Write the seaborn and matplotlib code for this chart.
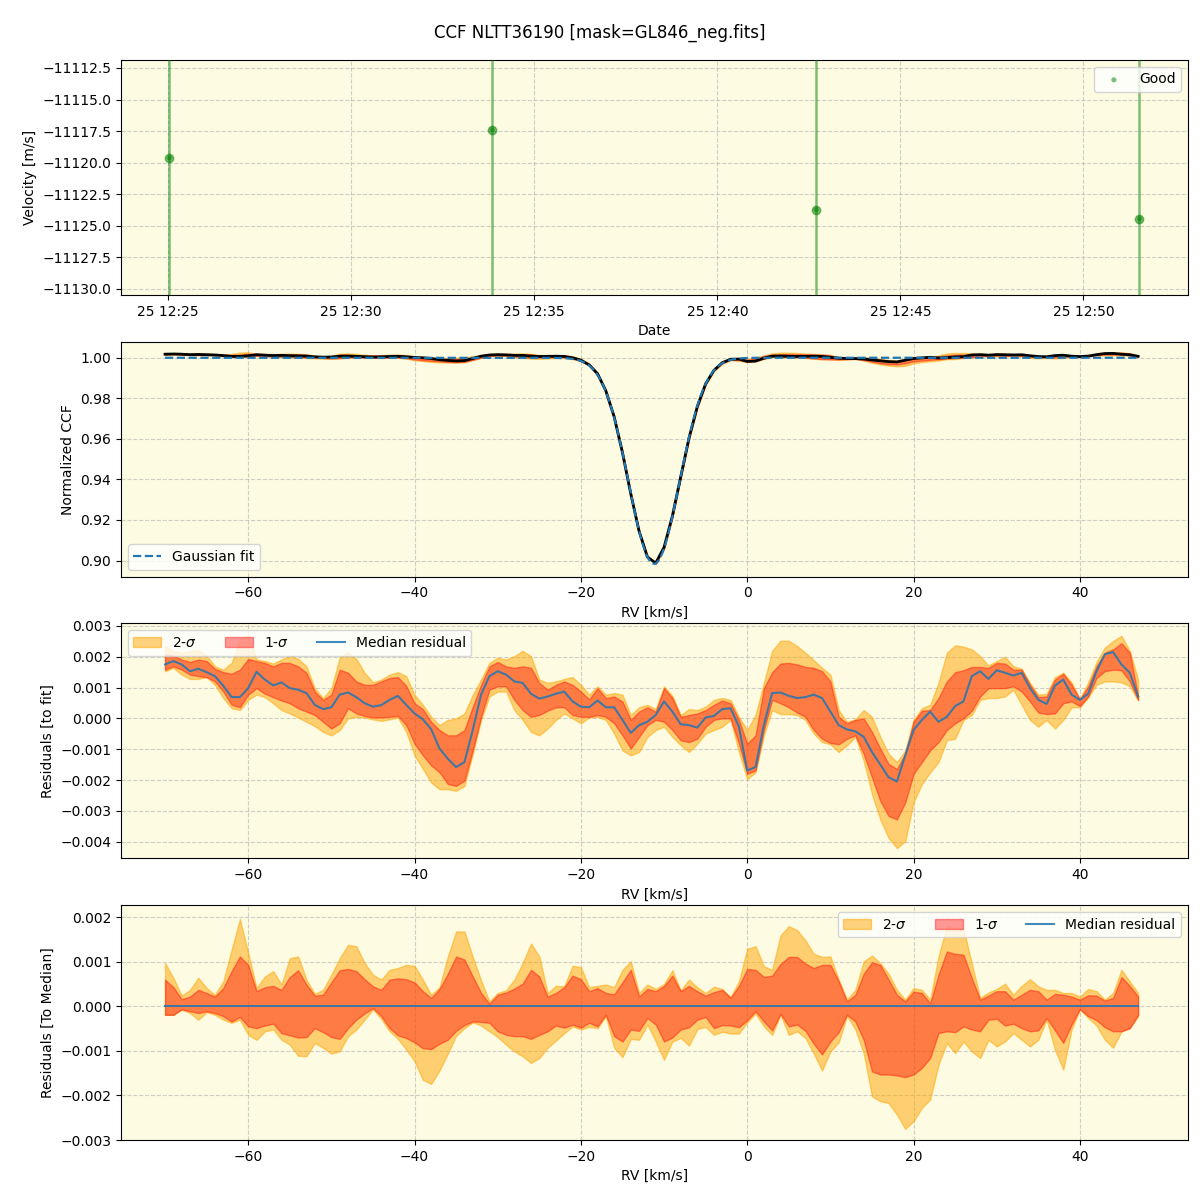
import numpy as np
import pandas as pd
import matplotlib
matplotlib.use("Agg")
import matplotlib.pyplot as plt
import matplotlib.dates as mdates
from matplotlib.ticker import ScalarFormatter
import seaborn as sns

# ---------------- data ----------------
title = "CCF NLTT36190 [mask=GL846_neg.fits]"

# Panel 1: radial velocities
obs_times = ["2024-01-25 12:25:02", "2024-01-25 12:33:51",
             "2024-01-25 12:42:42", "2024-01-25 12:51:32"]
velocities = [-11119.63, -11117.41, -11123.74, -11124.46]
vel_errors = [20.0, 20.0, 20.0, 20.0]

# Panel 2: Gaussian fit parameters
fit_center = -11.2
fit_sigma = 3.05
fit_depth = 0.1016
fit_continuum = 1.0

# RV grid (km/s)
rv = np.arange(-70, 48)

# Panel 3: residuals to fit (units of 1e-3)
med_res = [1.75, 1.86, 1.75, 1.53, 1.61, 1.50, 1.37, 1.06, 0.69, 0.69,
           0.98, 1.51, 1.26, 1.07, 1.17, 0.98, 0.93, 0.82, 0.44, 0.30,
           0.36, 0.77, 0.84, 0.69, 0.49, 0.38, 0.43, 0.60, 0.73, 0.44,
           0.16, -0.03, -0.35, -0.98, -1.31, -1.58, -1.42, -0.38, 0.77, 1.37,
           1.53, 1.42, 1.20, 1.15, 0.80, 0.64, 0.71, 0.80, 0.87, 0.55,
           0.38, 0.36, 0.58, 0.36, 0.36, -0.05, -0.47, -0.22, -0.11, 0.11,
           0.55, 0.22, -0.19, -0.22, -0.30, 0.03, 0.08, 0.30, 0.33, -0.27,
           -1.69, -1.58, -0.22, 0.82, 0.84, 0.73, 0.66, 0.69, 0.77, 0.66,
           0.22, -0.22, -0.36, -0.42, -0.60, -1.09, -1.50, -1.91, -2.05, -1.20,
           -0.38, -0.05, 0.22, -0.11, 0.05, 0.40, 0.55, 1.37, 1.53, 1.28,
           1.56, 1.48, 1.39, 1.48, 0.98, 0.60, 0.47, 1.06, 1.26, 0.77,
           0.60, 0.80, 1.53, 2.08, 2.15, 1.75, 1.48, 0.71]
s1_lo = [1.58, 1.69, 1.58, 1.42, 1.37, 1.34, 1.20, 0.87, 0.44, 0.36,
         0.77, 0.98, 0.80, 0.69, 0.58, 0.49, 0.33, 0.22, 0.11, -0.11,
         -0.33, -0.16, 0.33, 0.16, 0.08, 0.03, 0.03, 0.05, 0.08, -0.22,
         -0.82, -1.20, -1.53, -1.75, -2.13, -2.19, -2.02, -1.04, 0.05, 0.93,
         1.04, 1.04, 0.60, 0.27, 0.05, 0.11, 0.25, 0.36, 0.36, 0.11,
         0.05, 0.05, 0.11, 0.05, -0.16, -0.55, -0.98, -0.60, -0.22, -0.05,
         -0.11, -0.38, -0.71, -0.77, -0.66, -0.27, -0.05, 0.00, 0.00, -0.82,
         -1.80, -1.69, -0.38, 0.60, 0.49, 0.36, 0.19, 0.05, -0.38, -0.66,
         -0.80, -0.84, -0.66, -0.55, -1.15, -1.91, -2.68, -3.17, -3.28, -2.73,
         -1.80, -1.42, -1.04, -0.77, -0.38, -0.16, 0.00, 0.25, 0.71, 0.98,
         0.98, 0.98, 1.04, 0.87, 0.55, 0.19, 0.14, 0.16, 0.49, 0.55,
         0.40, 0.71, 1.31, 1.53, 1.58, 1.56, 1.20, 0.60]
s1_hi = [2.08, 2.04, 1.91, 1.83, 1.91, 1.86, 1.61, 1.50, 1.45, 1.58,
         1.93, 1.86, 1.80, 1.69, 1.80, 1.80, 1.69, 1.48, 0.87, 0.60,
         0.77, 1.58, 1.48, 1.20, 1.09, 1.09, 1.20, 1.31, 1.34, 1.06,
         0.49, 0.30, -0.11, -0.38, -0.55, -0.55, -0.38, 0.38, 1.09, 1.69,
         1.83, 1.69, 1.64, 1.69, 1.64, 1.15, 0.93, 1.09, 1.20, 1.09,
         0.87, 0.62, 0.98, 0.66, 0.71, 0.55, -0.05, 0.22, 0.36, 0.22,
         0.98, 0.66, 0.05, 0.11, 0.16, 0.27, 0.44, 0.58, 0.49, -0.05,
         -0.82, -0.55, 0.98, 1.50, 1.78, 1.80, 1.75, 1.67, 1.64, 1.53,
         1.20, 0.05, -0.16, -0.05, 0.00, -0.44, -0.98, -1.48, -1.64, -1.15,
         -0.11, 0.25, 0.27, 0.66, 1.20, 1.50, 1.56, 1.67, 1.67, 1.64,
         1.80, 1.78, 1.58, 1.58, 1.09, 0.69, 0.71, 1.26, 1.45, 1.09,
         0.62, 1.04, 1.69, 2.13, 2.24, 2.44, 2.13, 0.73]
s2_lo = [1.53, 1.64, 1.42, 1.28, 1.28, 1.34, 1.09, 0.66, 0.33, 0.27,
         0.60, 0.77, 0.69, 0.49, 0.27, 0.16, 0.03, -0.11, -0.25, -0.44,
         -0.55, -0.38, 0.00, 0.05, 0.03, -0.03, -0.08, -0.03, 0.03, -0.44,
         -1.20, -1.64, -2.08, -2.30, -2.30, -2.35, -2.19, -1.15, -0.05, 0.71,
         0.87, 0.87, 0.27, -0.05, -0.44, -0.55, -0.33, -0.05, 0.16, 0.00,
         -0.16, 0.03, 0.05, -0.05, -0.49, -1.04, -1.20, -1.09, -0.60, -0.38,
         -0.27, -0.60, -0.87, -1.09, -0.82, -0.49, -0.38, -0.27, -0.05, -1.09,
         -1.97, -1.75, -0.55, 0.27, 0.14, 0.14, 0.11, -0.05, -0.49, -0.77,
         -0.84, -1.09, -0.87, -0.60, -1.37, -2.46, -3.28, -3.88, -4.21, -3.99,
         -2.73, -2.13, -1.75, -1.42, -0.71, -0.66, -0.05, 0.11, 0.60, 0.66,
         0.66, 0.71, 0.93, 0.44, -0.05, -0.27, -0.05, -0.33, -0.05, 0.36,
         0.36, 0.69, 1.09, 1.20, 1.20, 1.17, 1.04, 0.58]
s2_hi = [2.35, 2.19, 2.13, 2.19, 2.22, 2.04, 1.69, 1.58, 1.80, 2.57,
         2.70, 1.91, 1.86, 1.78, 1.91, 2.04, 1.93, 1.69, 0.98, 0.66,
         0.98, 1.97, 2.15, 1.93, 1.48, 1.17, 1.26, 1.42, 1.50, 1.37,
         0.77, 0.44, 0.05, -0.22, -0.05, 0.00, 0.16, 0.77, 1.26, 1.80,
         1.97, 1.91, 2.02, 2.19, 2.02, 1.26, 1.15, 1.20, 1.28, 1.34,
         1.09, 0.77, 1.04, 0.77, 0.82, 0.77, 0.11, 0.36, 0.44, 0.30,
         1.04, 0.73, 0.11, 0.30, 0.27, 0.38, 0.60, 0.66, 0.60, 0.05,
         -0.38, 0.11, 1.15, 2.19, 2.52, 2.52, 2.35, 2.13, 1.89, 1.64,
         1.42, 0.27, -0.11, -0.03, 0.27, 0.05, -0.60, -1.15, -1.42, -1.04,
         -0.05, 0.33, 0.44, 1.15, 2.13, 2.37, 2.33, 2.24, 2.02, 1.72,
         1.86, 2.00, 1.69, 1.61, 1.15, 0.77, 0.80, 1.34, 1.48, 1.17,
         0.62, 1.17, 1.83, 2.30, 2.51, 2.68, 2.19, 1.26]

# Panel 4: residuals to median (units of 1e-3)
m_s2_hi = [0.97, 0.64, 0.24, 0.37, 0.64, 0.41, 0.26, 0.56, 1.27, 1.96,
           1.20, 0.41, 0.67, 0.79, 0.49, 1.08, 1.12, 0.60, 0.28, 0.37,
           0.71, 1.08, 1.38, 1.35, 0.97, 0.71, 0.60, 0.82, 0.86, 0.93,
           0.91, 0.60, 0.26, 0.43, 1.12, 1.68, 1.68, 1.11, 0.58, 0.11,
           0.30, 0.36, 0.60, 0.97, 1.41, 1.12, 0.30, 0.46, 0.45, 0.91,
           0.88, 0.43, 0.46, 0.49, 0.43, 0.82, 1.01, 0.30, 0.49, 0.39,
           0.50, 0.81, 0.36, 0.60, 0.43, 0.30, 0.44, 0.39, 0.21, 0.56,
           1.29, 1.35, 0.90, 0.82, 1.59, 1.80, 1.71, 1.48, 1.18, 1.11,
           1.12, 0.60, 0.15, 0.37, 1.01, 1.14, 0.97, 0.73, 0.37, 0.15,
           0.41, 0.37, 0.15, 1.12, 1.80, 1.76, 1.74, 0.97, 0.19, 0.31,
           0.39, 0.51, 0.26, 0.46, 0.61, 0.45, 0.37, 0.37, 0.30, 0.30,
           0.22, 0.39, 0.34, 0.15, 0.30, 0.82, 0.56, 0.30]
m_s1_hi = [0.60, 0.43, 0.16, 0.22, 0.37, 0.30, 0.22, 0.41, 0.79, 1.12,
           0.93, 0.34, 0.43, 0.46, 0.37, 0.66, 0.81, 0.49, 0.24, 0.26,
           0.54, 0.81, 0.84, 0.79, 0.61, 0.45, 0.37, 0.60, 0.63, 0.61,
           0.54, 0.34, 0.19, 0.39, 0.73, 1.12, 1.05, 0.67, 0.30, 0.06,
           0.26, 0.31, 0.40, 0.51, 0.82, 0.67, 0.22, 0.30, 0.43, 0.69,
           0.61, 0.34, 0.41, 0.30, 0.27, 0.54, 0.82, 0.22, 0.39, 0.34,
           0.46, 0.69, 0.34, 0.46, 0.34, 0.24, 0.32, 0.37, 0.19, 0.46,
           0.84, 0.82, 0.66, 0.69, 0.95, 1.11, 1.11, 0.96, 0.86, 0.93,
           0.93, 0.56, 0.11, 0.26, 0.73, 0.99, 0.93, 0.60, 0.26, 0.11,
           0.33, 0.30, 0.07, 0.71, 1.23, 1.18, 1.16, 0.64, 0.15, 0.24,
           0.34, 0.34, 0.15, 0.26, 0.37, 0.34, 0.15, 0.28, 0.26, 0.22,
           0.15, 0.25, 0.24, 0.13, 0.19, 0.66, 0.46, 0.22]
m_s1_lo = [-0.19, -0.19, -0.07, -0.11, -0.15, -0.11, -0.15, -0.22, -0.34, -0.24,
           -0.45, -0.49, -0.43, -0.39, -0.60, -0.65, -0.70, -0.69, -0.49, -0.58,
           -0.69, -0.73, -0.49, -0.30, -0.16, -0.04, -0.22, -0.49, -0.65, -0.71,
           -0.81, -0.94, -0.96, -0.84, -0.75, -0.55, -0.42, -0.34, -0.35, -0.37,
           -0.56, -0.64, -0.67, -0.67, -0.73, -0.64, -0.56, -0.43, -0.48, -0.41,
           -0.48, -0.37, -0.45, -0.19, -0.67, -0.79, -0.52, -0.55, -0.26, -0.41,
           -0.79, -0.70, -0.52, -0.47, -0.30, -0.24, -0.49, -0.42, -0.43, -0.47,
           -0.31, -0.11, -0.34, -0.54, -0.17, -0.45, -0.41, -0.55, -0.84, -1.08,
           -0.79, -0.58, -0.19, -0.34, -0.75, -1.46, -1.53, -1.53, -1.55, -1.59,
           -1.53, -1.38, -1.16, -0.60, -0.56, -0.58, -0.45, -0.52, -0.56, -0.30,
           -0.28, -0.43, -0.39, -0.49, -0.56, -0.54, -0.26, -0.54, -0.82, -0.41,
           -0.06, -0.22, -0.31, -0.47, -0.56, -0.56, -0.49, -0.19]
m_s2_lo = [-0.19, -0.19, -0.07, -0.15, -0.30, -0.13, -0.19, -0.30, -0.37, -0.30,
           -0.64, -0.75, -0.56, -0.52, -0.75, -0.86, -1.11, -1.12, -0.82, -0.93,
           -1.06, -1.01, -0.67, -0.52, -0.30, -0.07, -0.28, -0.56, -0.73, -0.97,
           -1.23, -1.65, -1.74, -1.44, -1.06, -0.66, -0.49, -0.36, -0.43, -0.56,
           -0.69, -0.86, -1.01, -1.12, -1.27, -1.16, -0.93, -0.77, -0.60, -0.45,
           -0.52, -0.46, -0.49, -0.22, -0.93, -1.14, -0.73, -0.75, -0.41, -0.79,
           -1.20, -0.79, -0.71, -0.88, -0.51, -0.46, -0.64, -0.57, -0.61, -0.61,
           -0.36, -0.16, -0.45, -0.64, -0.19, -0.64, -0.56, -0.71, -1.06, -1.44,
           -1.01, -0.81, -0.21, -0.52, -1.05, -2.02, -2.13, -2.17, -2.43, -2.75,
           -2.58, -2.28, -2.09, -1.31, -0.82, -1.05, -0.79, -1.01, -1.16, -0.75,
           -0.90, -0.79, -0.60, -0.75, -0.90, -0.75, -0.30, -0.97, -1.42, -0.52,
           -0.07, -0.26, -0.43, -0.75, -0.93, -0.56, -0.49, -0.22]

# ---------------- derived ----------------
scale = 1e-3
med = np.array(med_res) * scale
lo1, hi1 = np.array(s1_lo) * scale, np.array(s1_hi) * scale
lo2, hi2 = np.array(s2_lo) * scale, np.array(s2_hi) * scale
mlo1, mhi1 = np.array(m_s1_lo) * scale, np.array(m_s1_hi) * scale
mlo2, mhi2 = np.array(m_s2_lo) * scale, np.array(m_s2_hi) * scale


def gauss_fit(x):
    return fit_continuum - fit_depth * np.exp(-0.5 * ((x - fit_center) / fit_sigma) ** 2)


rv_fine = np.linspace(rv.min(), rv.max(), 900)
fit_fine = gauss_fit(rv_fine)
fit_grid = gauss_fit(rv)
ccf = fit_grid + med

times = pd.to_datetime(obs_times)

# ---------------- figure ----------------
bg = "#fdfbe2"
fig, axes = plt.subplots(4, 1, figsize=(12, 12), dpi=100)
fig.subplots_adjust(left=0.1008, right=0.99, bottom=0.05, top=0.95, hspace=0.2)
for ax in axes:
    ax.set_facecolor(bg)
    ax.grid(True, linestyle="--", color="#b0b0b0", alpha=0.6, linewidth=0.8)
    ax.set_axisbelow(True)

# Panel 1
ax = axes[0]
ax.errorbar(times, velocities, yerr=vel_errors, fmt="o", color="green",
            alpha=0.5, ms=6, elinewidth=1.8, zorder=3)
sns.scatterplot(x=times, y=velocities, ax=ax, color="green", alpha=0.5,
                s=14, edgecolor="none", label="Good", zorder=4)
ax.set_ylim(-11130.47, -11111.87)
ax.yaxis.set_major_formatter(ScalarFormatter(useOffset=False))
ax.set_yticks(np.arange(-11130.0, -11111.0, 2.5))
ax.xaxis.set_major_locator(mdates.MinuteLocator(byminute=range(0, 60, 5)))
ax.xaxis.set_major_formatter(mdates.DateFormatter("%d %H:%M"))
ax.set_xlabel("Date")
ax.set_ylabel("Velocity [m/s]")
ax.legend(loc="upper right")

# Panel 2
ax = axes[1]
ax.fill_between(rv, fit_grid + lo2, fit_grid + hi2, color="orange", alpha=0.5)
ax.fill_between(rv, fit_grid + lo1, fit_grid + hi1, color="red", alpha=0.4)
sns.lineplot(x=rv, y=ccf, ax=ax, color="black", linewidth=2)
sns.lineplot(x=rv_fine, y=fit_fine, ax=ax, color="#1f77b4", linewidth=1.6,
             linestyle="--", label="Gaussian fit")
ax.set_xlim(-75.3, 53.0)
ax.set_ylim(0.8921, 1.0079)
ax.set_xlabel("RV [km/s]")
ax.set_ylabel("Normalized CCF")
ax.legend(loc="lower left")

# Panel 3
ax = axes[2]
ax.fill_between(rv, lo2, hi2, color="orange", alpha=0.5, label="2-$\\sigma$")
ax.fill_between(rv, lo1, hi1, color="red", alpha=0.4, label="1-$\\sigma$")
sns.lineplot(x=rv, y=med, ax=ax, color="#1f77b4", linewidth=1.5, alpha=0.85,
             label="Median residual")
ax.set_xlim(-75.3, 53.0)
ax.set_ylim(-4.54e-3, 3.08e-3)
ax.set_xlabel("RV [km/s]")
ax.set_ylabel("Residuals [to fit]")
ax.legend(loc="upper left", ncol=3)

# Panel 4
ax = axes[3]
ax.fill_between(rv, mlo2, mhi2, color="orange", alpha=0.5, label="2-$\\sigma$")
ax.fill_between(rv, mlo1, mhi1, color="red", alpha=0.4, label="1-$\\sigma$")
sns.lineplot(x=rv, y=np.zeros_like(mlo1), ax=ax, color="#1f77b4", linewidth=1.5,
             alpha=0.85, label="Median residual")
ax.set_xlim(-75.3, 53.0)
ax.set_ylim(-3.0e-3, 2.27e-3)
ax.set_xlabel("RV [km/s]")
ax.set_ylabel("Residuals [To Median]")
ax.legend(loc="upper right", ncol=3)

fig.suptitle(title, fontsize=12)
fig.savefig("out.png", dpi=100)
